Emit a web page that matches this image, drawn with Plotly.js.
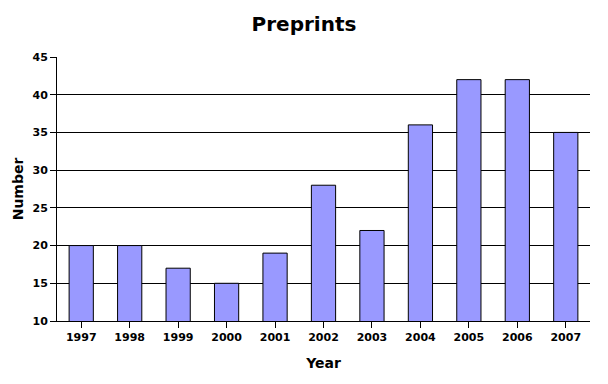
<!DOCTYPE html>
<html>
<head>
<meta charset="utf-8">
<script src="https://cdn.plot.ly/plotly-3.0.1.min.js"></script>
<style>html,body{margin:0;padding:0;background:#fff;}#chart{width:608px;height:384px;}</style>
</head>
<body>
<div id="chart"></div>
<script>
const years = ["1997","1998","1999","2000","2001","2002","2003","2004","2005","2006","2007"];
const preprints = [20, 20, 17, 15, 19, 28, 22, 36, 42, 42, 35];
const yTicks = [10, 15, 20, 25, 30, 35, 40, 45];

const trace = {
  type: "bar",
  x: years,
  y: preprints,
  base: 0,
  width: 0.5,
  marker: {color: "#9999ff", line: {color: "#000000", width: 1}},
  hoverinfo: "x+y"
};

const layout = {
  width: 608, height: 384,
  margin: {l: 57, r: 18, t: 57, b: 63},
  paper_bgcolor: "#ffffff", plot_bgcolor: "#ffffff",
  font: {family: "DejaVu Sans, sans-serif", color: "#000000"},
  title: {text: "<b>Preprints</b>", font: {size: 20, family: "DejaVu Sans, sans-serif"}, x: 0.5, xanchor: "center", y: 0.938, yanchor: "middle"},
  showlegend: false,
  bargap: 0.5,
  xaxis: {
    type: "category",
    title: {text: "<b>Year</b>", font: {size: 14}, standoff: 14},
    tickfont: {size: 11, family: "DejaVu Sans, sans-serif", weight: "bold"},
    ticks: "outside", ticklen: 6, tickcolor: "#000", tickwidth: 1,
    showline: true, linecolor: "#000", linewidth: 1,
    showgrid: false, zeroline: false
  },
  yaxis: {
    range: [10, 45],
    tickvals: yTicks,
    title: {text: "<b>Number</b>", font: {size: 14}, standoff: 5},
    tickfont: {size: 11, family: "DejaVu Sans, sans-serif", weight: "bold"},
    ticks: "outside", ticklen: 6, tickcolor: "#000", tickwidth: 1,
    showline: true, linecolor: "#000", linewidth: 1,
    showgrid: true, gridcolor: "#000", gridwidth: 1,
    zeroline: false
  }
};

Plotly.newPlot("chart", [trace], layout, {staticPlot: true, displayModeBar: false});
</script>
</body>
</html>
